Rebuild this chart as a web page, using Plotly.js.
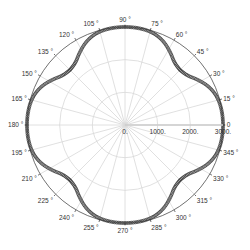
<!DOCTYPE html>
<html><head><meta charset="utf-8">
<script src="https://cdn.plot.ly/plotly-3.0.1.min.js"></script>
<style>html,body{margin:0;padding:0;background:#fff}#c{width:250px;height:250px}</style>
</head><body><div id="c"></div>
<script>
// angle (degrees) of each sample
const angles = [];
for (let a = 0; a < 360; a += 1) angles.push(a);
// radius per quadrant (0..89 deg step 1)
const quadrantR = [3000,3000,3000,2999,2998,2997,2996,2994,2992,2989,2986,2982,2978,2972,2966,2958,2950,2940,2928,2915,
                   2900,2884,2866,2847,2826,2804,2780,2755,2728,2700,2672,2643,2614,2586,2558,2527,2498,2474,2452,2435,
                   2420,2409,2400,2392,2386,2384,2386,2392,2400,2409,2420,2435,2452,2474,2498,2527,2558,2586,2614,2643,
                   2672,2700,2728,2755,2780,2804,2826,2847,2866,2884,2900,2915,2928,2940,2950,2958,2966,2972,2978,2982,
                   2986,2989,2992,2994,2996,2997,2998,2999,3000,3000];
const radii = [].concat(quadrantR, quadrantR, quadrantR, quadrantR);
const angTickVals = [0,15,30,45,60,75,90,105,120,135,150,165,180,195,210,225,240,255,270,285,300,315,330,345];
const angTickText = ['0','15 °','30 °','45 °','60 °','75 °','90 °','105 °','120 °','135 °','150 °','165 °','180 °','195 °','210 °','225 °','240 °','255 °','270 °','285 °','300 °','315 °','330 °','345 °'];
const radTickVals = [0,1000,2000,3000];
const radTickText = ['0.','1000.','2000.','3000.'];

Plotly.newPlot('c', [{
  type: 'scatterpolar', mode: 'markers',
  r: radii, theta: angles,
  marker: {symbol: 'circle-open', size: 3, color: '#333', line: {width: 0.7}},
  hoverinfo: 'none'
}], {
  width: 250, height: 250,
  margin: {l: 25, r: 25, t: 25, b: 25},
  paper_bgcolor: '#fff', showlegend: false,
  font: {family: 'Liberation Sans, Arial, sans-serif', size: 6.5, color: '#333'},
  polar: {
    bgcolor: '#fff',
    domain: {x: [0.01, 0.99], y: [0.01, 0.99]},
    angularaxis: {
      direction: 'counterclockwise', rotation: 0,
      tickvals: angTickVals, ticktext: angTickText,
      showline: true, linecolor: '#333', linewidth: 0.7,
      ticks: 'outside', ticklen: 2, tickcolor: '#333', tickwidth: 0.7,
      showgrid: true, gridcolor: '#d8d8d8', gridwidth: 0.8,
      tickfont: {size: 6.5, color: '#333'}
    },
    radialaxis: {
      range: [0, 3000], angle: 0, side: 'clockwise',
      tickvals: radTickVals, ticktext: radTickText,
      showline: true, linecolor: '#ccc', linewidth: 1.5,
      ticks: '', showgrid: true, gridcolor: '#d8d8d8', gridwidth: 0.8,
      tickfont: {size: 6.5, color: '#333'}
    }
  }
}, {staticPlot: true, displayModeBar: false});
</script></body></html>
